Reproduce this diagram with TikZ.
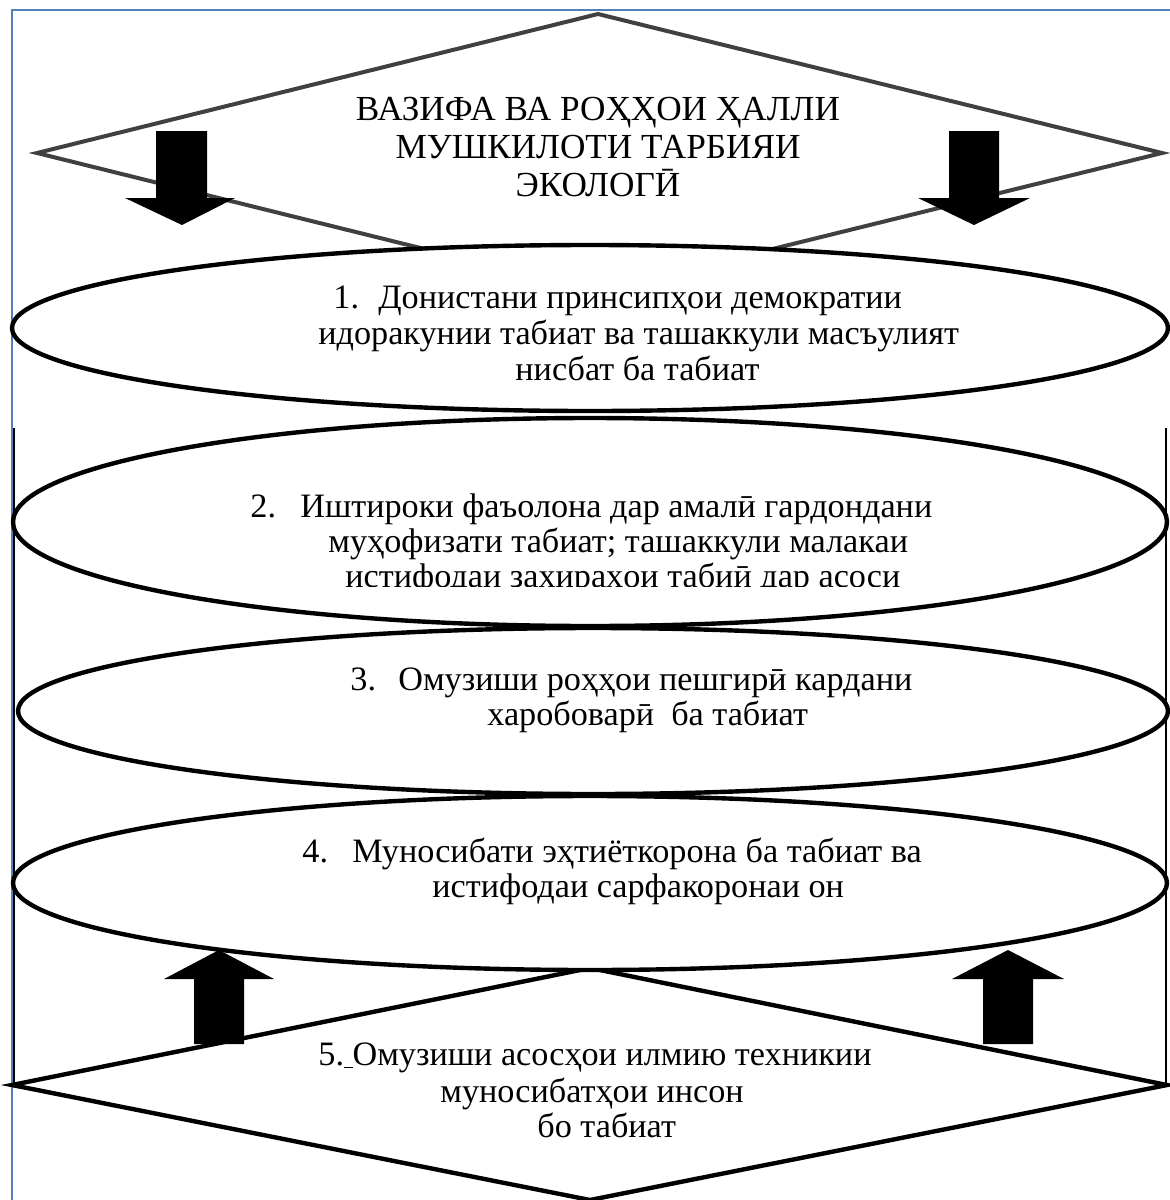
\documentclass[tikz,border=0pt]{standalone}
\usepackage{fontspec}
\setmainfont{Liberation Serif}
\usetikzlibrary{shapes.geometric}
\definecolor{frameblue}{HTML}{4F81BD}
\definecolor{darkgrey}{HTML}{404040}
\begin{document}
\begin{tikzpicture}[x=0.5pt,y=-0.5pt,
  oval/.style={ellipse, draw=black, line width=2.2pt, fill=white, inner sep=0pt},
  txt/.style={anchor=base west, inner sep=0pt, font=\fontsize{17.1pt}{18pt}\selectfont},
  ctxt/.style={anchor=base, inner sep=0pt, font=\fontsize{17.6pt}{18pt}\selectfont},
  blockarrow/.style={fill=black, draw=none},
  thinline/.style={line width=0.75pt}
]
\useasboundingbox (0,0) rectangle (1170,1200);

% frame lines
\coordinate (fTL) at (12,10);
\coordinate (fTR) at (1170,10);
\coordinate (fBL) at (12,1200);
\draw[frameblue, thinline] (fTR) -- (fTL) -- (fBL);
\coordinate (lA) at (14,428);
\coordinate (lB) at (14,1085);
\coordinate (rA) at (1166,428);
\coordinate (rB) at (1166,1085);
\draw[black, thinline] (lA) -- (lB);
\draw[black, thinline] (rA) -- (rB);

% top diamond
\coordinate (dT) at (598,14);
\coordinate (dR) at (1162,153);
\coordinate (dB) at (598,292);
\coordinate (dL) at (37,153);
\draw[darkgrey, line width=2pt, fill=white, line join=miter] (dT) -- (dR) -- (dB) -- (dL) -- cycle;
\node[ctxt] (title1) at (598,120) {ВАЗИФА ВА РОҲҲОИ ҲАЛЛИ};
\node[ctxt] (title2) at (598,158) {МУШКИЛОТИ ТАРБИЯИ};
\node[ctxt] (title3) at (598,196) {ЭКОЛОГӢ};

% ellipse 1
\node[oval, minimum width=578pt, minimum height=83pt] (e1) at (590,328) {};
\node[txt] (e1a) at (333,308) {\makebox[22.5pt][l]{1.}Донистани принсипҳои демократии};
\node[txt] (e1b) at (318,344) {идоракунии табиат ва ташаккули масъулият};
\node[txt] (e1c) at (515,380) {нисбат ба табиат};

% ellipse 2
\node[oval, minimum width=577pt, minimum height=104pt] (e2) at (590,522) {};
\begin{scope}
\clip (0,400) rectangle (1170,586);
\node[txt] (e2a) at (250,517) {\makebox[25pt][l]{2.}Иштироки фаъолона дар амалӣ гардондани};
\node[txt] (e2b) at (328,552) {муҳофизати табиат; ташаккули малакаи};
\node[txt] (e2c) at (345,587) {истифодаи захираҳои табиӣ дар асоси};
\end{scope}

% ellipse 3
\node[oval, minimum width=575pt, minimum height=83pt] (e3) at (593,711) {};
\node[txt] (e3a) at (350,690) {\makebox[24pt][l]{3.}Омузиши роҳҳои пешгирӣ кардани};
\node[txt] (e3b) at (487,725) {харобоварӣ\ \ ба табиат};

% bottom diamond
\coordinate (bT) at (590,968);
\coordinate (bR) at (1167,1085);
\coordinate (bB) at (590,1200);
\coordinate (bL) at (12,1085);
\draw[black, line width=2.2pt, fill=white, line join=miter] (bT) -- (bR) -- (bB) -- (bL) -- cycle;
\node[txt] (b5a) at (318,1065) {5.\underline{\ }Омузиши асосҳои илмию техникии};
\node[txt] (b5b) at (440,1102) {муносибатҳои инсон};
\node[txt] (b5c) at (537,1137) {бо табиат};

% ellipse 4
\node[oval, minimum width=577pt, minimum height=87pt] (e4) at (590,883) {};
\node[txt] (e4a) at (302,862) {\makebox[25pt][l]{4.}Муносибати эҳтиёткорона ба табиат ва};
\node[txt] (e4b) at (432,897) {истифодаи сарфакоронаи он};

% block arrows (down)
\fill[blockarrow] (156,131) -- (207,131) -- (207,198) -- (235,198) -- (182,225) -- (125,198) -- (156,198) -- cycle;
\fill[blockarrow] (949,131) -- (999,131) -- (999,198) -- (1030,198) -- (974,225) -- (918,198) -- (949,198) -- cycle;
% block arrows (up)
\fill[blockarrow] (194,1044) -- (244,1044) -- (244,979) -- (274,979) -- (219,950) -- (164,979) -- (194,979) -- cycle;
\fill[blockarrow] (983,1044) -- (1033,1044) -- (1033,979) -- (1064,979) -- (1008,950) -- (952,979) -- (983,979) -- cycle;
\end{tikzpicture}
\end{document}
